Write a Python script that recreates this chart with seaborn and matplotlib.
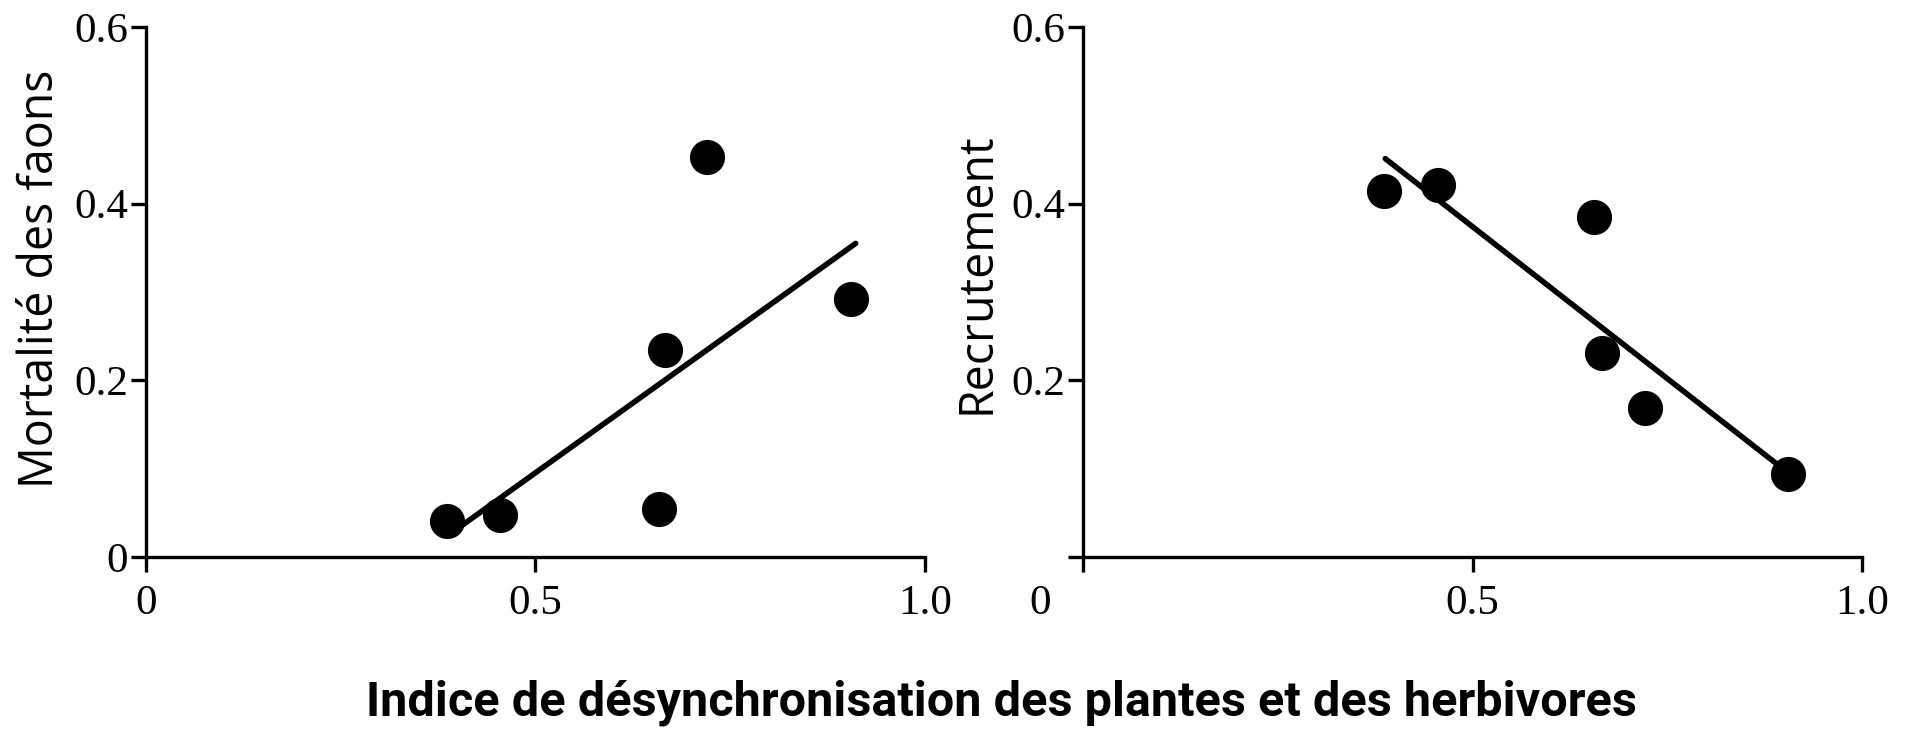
import numpy as np
import pandas as pd
import matplotlib
matplotlib.use("Agg")
import matplotlib.pyplot as plt
import matplotlib.transforms as mtransforms
import seaborn as sns

# Data
x_vals = [0.386, 0.455, 0.658, 0.666, 0.720, 0.905]
mortalite = [0.041, 0.048, 0.054, 0.234, 0.453, 0.292]
x_vals_r = [0.386, 0.456, 0.656, 0.666, 0.722, 0.905]
recrutement = [0.414, 0.421, 0.385, 0.231, 0.169, 0.094]
fit_x_left = [0.406, 0.911]
fit_y_left = [0.036, 0.355]
fit_x_right = [0.388, 0.894]
fit_y_right = [0.451, 0.103]

xticks = [0, 0.5, 1.0]
xticklabels = ["0", "0.5", "1.0"]
yticks_left = [0, 0.2, 0.4, 0.6]
yticklabels_left = ["0", "0.2", "0.4", "0.6"]
yticks_right = [0, 0.2, 0.4, 0.6]
yticklabels_right = ["", "0.2", "0.4", "0.6"]

sns.set_theme(style="ticks")
plt.rcParams['font.family'] = ['Liberation Serif', 'DejaVu Serif']

W, H = 1908, 734
fig = plt.figure(figsize=(W / 100, H / 100), dpi=100)
ax1 = fig.add_axes([146 / W, 1 - 557 / H, 779 / W, 530 / H])
ax2 = fig.add_axes([1083 / W, 1 - 557 / H, 779 / W, 530 / H])

df_l = pd.DataFrame({"x": x_vals, "y": mortalite})
df_r = pd.DataFrame({"x": x_vals_r, "y": recrutement})
fl = pd.DataFrame({"x": fit_x_left, "y": fit_y_left})
fr = pd.DataFrame({"x": fit_x_right, "y": fit_y_right})

for ax, df, fit, yt, ytl in [(ax1, df_l, fl, yticks_left, yticklabels_left),
                             (ax2, df_r, fr, yticks_right, yticklabels_right)]:
    sns.lineplot(data=fit, x="x", y="y", ax=ax, color="black", linewidth=4.0)
    sns.scatterplot(data=df, x="x", y="y", ax=ax, color="black", s=640,
                    edgecolor="black", linewidth=0, clip_on=False, zorder=3)
    ax.set_xlim(0, 1.0)
    ax.set_ylim(0, 0.6)
    ax.set_xticks(xticks)
    ax.set_xticklabels(xticklabels)
    ax.set_yticks(yt)
    ax.set_yticklabels(ytl)
    for s in ["top", "right"]:
        ax.spines[s].set_visible(False)
    for s in ["left", "bottom"]:
        ax.spines[s].set_linewidth(2.4)
        ax.spines[s].set_color("black")
    ax.tick_params(axis="both", direction="out", length=11, width=2.4,
                   color="black", labelsize=31, labelcolor="black")
    ax.tick_params(axis="y", pad=2)
    ax.tick_params(axis="x", pad=9)
    ax.set_xlabel("")
    ax.set_facecolor("white")
    ax.grid(False)

sans = ['Open Sans', 'DejaVu Sans']
ax1.set_ylabel("Mortalité des faons", fontsize=33.5, family=sans, color="black")
ax1.yaxis.set_label_coords(-82 / 779, 0.525)
ax2.set_ylabel("Recrutement", fontsize=33.5, family=sans, color="black")
ax2.yaxis.set_label_coords(-82 / 779, 0.535)

# shift the "0" x tick label of the right panel to the left as in the reference
lab0 = ax2.get_xticklabels()[0]
lab0.set_transform(lab0.get_transform() +
                   mtransforms.ScaledTranslation(-43 / 100, 0, fig.dpi_scale_trans))

fig.text(1001 / W, 1 - 703 / H,
         "Indice de désynchronisation des plantes et des herbivores",
         ha="center", va="center", fontsize=35, fontweight="bold",
         family=['Roboto', 'DejaVu Sans'], color="black")

fig.savefig("out.png", dpi=100, facecolor="white")
